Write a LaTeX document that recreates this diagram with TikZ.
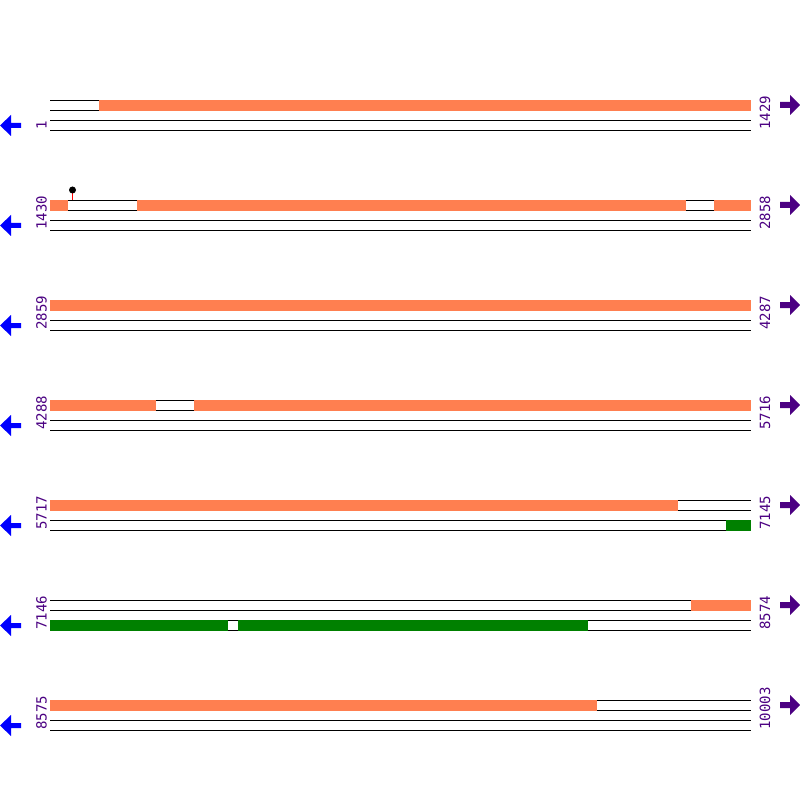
\documentclass[tikz,border=0pt]{standalone}
\usepackage{fontspec}
\setmonofont{DejaVu Sans Mono}
\usepackage{tikz}
\usetikzlibrary{positioning}
\definecolor{cdsOrange}{HTML}{FF7F50}
\definecolor{cdsGreen}{HTML}{008000}
\definecolor{posPurple}{HTML}{4B0082}
\definecolor{revBlue}{HTML}{0000FF}
\tikzset{
  poslabel/.style={text=posPurple, font=\ttfamily\fontsize{8}{8}\selectfont,
                   rotate=90, anchor=west, inner sep=0pt},
  strand/.style={line width=0.57pt, draw=black},
}

\begin{document}
\begin{tikzpicture}[x=0.02cm, y=-0.02cm]
    \useasboundingbox[fill=white] (0,0) rectangle (800,800);

    % Row 1: 1 .. 1429
    \draw[strand] (50,100.5) -- (751,100.5) (50,110.5) -- (751,110.5) (50,120.5) -- (751,120.5) (50,130.5) -- (751,130.5);
    \fill[cdsOrange] (99,100) rectangle (751,111);
    \node[poslabel] (start1) at (41.5,130) {1};
    \node[poslabel] (end1) at (765,130) {1429};
    \fill[revBlue] (0,125.5) -- (11,115) -- (11,123) -- (21,123) -- (21,128) -- (11,128) -- (11,136) -- cycle;
    \fill[posPurple] (800,105) -- (790,95) -- (790,102) -- (780,102) -- (780,108) -- (790,108) -- (790,115) -- cycle;

    % Row 2: 1430 .. 2858
    \draw[strand] (50,200.5) -- (751,200.5) (50,210.5) -- (751,210.5) (50,220.5) -- (751,220.5) (50,230.5) -- (751,230.5);
    \fill[cdsOrange] (50,200) rectangle (68,211);
    \fill[cdsOrange] (137,200) rectangle (686,211);
    \fill[cdsOrange] (714,200) rectangle (751,211);
    \draw[red, line width=0.6pt] (72.5,200) -- (72.5,190);
    \fill[black] (72.5,190) circle[radius=3.5];
    \node[poslabel] (start2) at (41.5,230) {1430};
    \node[poslabel] (end2) at (765,230) {2858};
    \fill[revBlue] (0,225.5) -- (11,215) -- (11,223) -- (21,223) -- (21,228) -- (11,228) -- (11,236) -- cycle;
    \fill[posPurple] (800,205) -- (790,195) -- (790,202) -- (780,202) -- (780,208) -- (790,208) -- (790,215) -- cycle;

    % Row 3: 2859 .. 4287
    \draw[strand] (50,300.5) -- (751,300.5) (50,310.5) -- (751,310.5) (50,320.5) -- (751,320.5) (50,330.5) -- (751,330.5);
    \fill[cdsOrange] (50,300) rectangle (751,311);
    \node[poslabel] (start3) at (41.5,330) {2859};
    \node[poslabel] (end3) at (765,330) {4287};
    \fill[revBlue] (0,325.5) -- (11,315) -- (11,323) -- (21,323) -- (21,328) -- (11,328) -- (11,336) -- cycle;
    \fill[posPurple] (800,305) -- (790,295) -- (790,302) -- (780,302) -- (780,308) -- (790,308) -- (790,315) -- cycle;

    % Row 4: 4288 .. 5716
    \draw[strand] (50,400.5) -- (751,400.5) (50,410.5) -- (751,410.5) (50,420.5) -- (751,420.5) (50,430.5) -- (751,430.5);
    \fill[cdsOrange] (50,400) rectangle (156,411);
    \fill[cdsOrange] (194,400) rectangle (751,411);
    \node[poslabel] (start4) at (41.5,430) {4288};
    \node[poslabel] (end4) at (765,430) {5716};
    \fill[revBlue] (0,425.5) -- (11,415) -- (11,423) -- (21,423) -- (21,428) -- (11,428) -- (11,436) -- cycle;
    \fill[posPurple] (800,405) -- (790,395) -- (790,402) -- (780,402) -- (780,408) -- (790,408) -- (790,415) -- cycle;

    % Row 5: 5717 .. 7145
    \draw[strand] (50,500.5) -- (751,500.5) (50,510.5) -- (751,510.5) (50,520.5) -- (751,520.5) (50,530.5) -- (751,530.5);
    \fill[cdsOrange] (50,500) rectangle (678,511);
    \fill[cdsGreen] (726,520) rectangle (751,531);
    \node[poslabel] (start5) at (41.5,530) {5717};
    \node[poslabel] (end5) at (765,530) {7145};
    \fill[revBlue] (0,525.5) -- (11,515) -- (11,523) -- (21,523) -- (21,528) -- (11,528) -- (11,536) -- cycle;
    \fill[posPurple] (800,505) -- (790,495) -- (790,502) -- (780,502) -- (780,508) -- (790,508) -- (790,515) -- cycle;

    % Row 6: 7146 .. 8574
    \draw[strand] (50,600.5) -- (751,600.5) (50,610.5) -- (751,610.5) (50,620.5) -- (751,620.5) (50,630.5) -- (751,630.5);
    \fill[cdsOrange] (691,600) rectangle (751,611);
    \fill[cdsGreen] (50,620) rectangle (228,631);
    \fill[cdsGreen] (238,620) rectangle (588,631);
    \node[poslabel] (start6) at (41.5,630) {7146};
    \node[poslabel] (end6) at (765,630) {8574};
    \fill[revBlue] (0,625.5) -- (11,615) -- (11,623) -- (21,623) -- (21,628) -- (11,628) -- (11,636) -- cycle;
    \fill[posPurple] (800,605) -- (790,595) -- (790,602) -- (780,602) -- (780,608) -- (790,608) -- (790,615) -- cycle;

    % Row 7: 8575 .. 10003
    \draw[strand] (50,700.5) -- (751,700.5) (50,710.5) -- (751,710.5) (50,720.5) -- (751,720.5) (50,730.5) -- (751,730.5);
    \fill[cdsOrange] (50,700) rectangle (597,711);
    \node[poslabel] (start7) at (41.5,730) {8575};
    \node[poslabel] (end7) at (765,730) {10003};
    \fill[revBlue] (0,725.5) -- (11,715) -- (11,723) -- (21,723) -- (21,728) -- (11,728) -- (11,736) -- cycle;
    \fill[posPurple] (800,705) -- (790,695) -- (790,702) -- (780,702) -- (780,708) -- (790,708) -- (790,715) -- cycle;
\end{tikzpicture}
\end{document}
